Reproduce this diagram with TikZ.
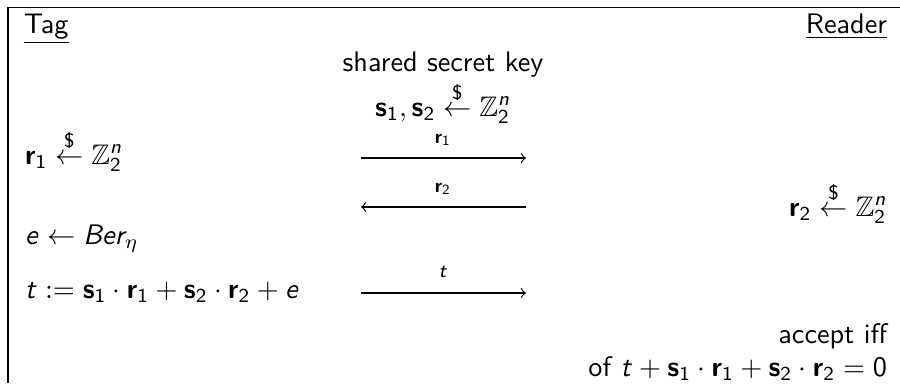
\documentclass[tikz,border=0pt]{standalone}
\usepackage{amssymb}
\renewcommand\familydefault{\sfdefault}
\DeclareMathAlphabet{\msi}{OT1}{cmss}{m}{sl}
\DeclareMathAlphabet{\msb}{OT1}{cmss}{bx}{n}
\DeclareMathAlphabet{\msr}{OT1}{cmss}{m}{n}
\newcommand\myr[1]{\msb{r}_{\msr{#1}}}
\newcommand\mys[1]{\msb{s}_{\msr{#1}}}
\newcommand\samp{\stackrel{\mbox{\scriptsize\$}}{\leftarrow}}
\newcommand\Ztwo{\mathbb{Z}_{\msr{2}}^{\msi{n}}}
\begin{document}
\begin{tikzpicture}[x=0.354pt,y=-0.354pt,
  txt/.style={inner sep=0pt, outer sep=0pt},
  lbl/.style={inner sep=0pt, outer sep=0pt, font=\scriptsize, anchor=base},
  msg/.style={->, line width=0.4pt},
  frame/.style={line width=0.5pt}]
\useasboundingbox (0,0) rectangle (900,383);
\coordinate (fb) at (8,383);
\coordinate (fc) at (8,7.5);
\coordinate (fr) at (900,7.5);
\draw[frame] (fb) -- (fc) -- (fr);
\node[txt, anchor=base west] (tag) at (24,33) {\underline{Tag}};
\node[txt, anchor=base east] (reader) at (887,33) {\underline{Reader}};
\node[txt, anchor=base] (shared) at (443,71) {shared secret key};
\node[txt, anchor=base] (keys) at (443,116) {$\mys1, \mys2 \samp \Ztwo$};
\node[txt, anchor=base west] (r1s) at (25,164) {$\myr1 \samp \Ztwo$};
\coordinate (a1s) at (361,158);
\coordinate (a1e) at (526,158);
\draw[msg] (a1s) -- (a1e);
\node[lbl] (l1) at (443,143) {$\myr1$};
\coordinate (a2s) at (526,207);
\coordinate (a2e) at (361,207);
\draw[msg] (a2s) -- (a2e);
\node[lbl] (l2) at (443,192) {$\myr2$};
\node[txt, anchor=base east] (r2s) at (887,216) {$\myr2 \samp \Ztwo$};
\node[txt, anchor=base west] (err) at (25,244) {$\msi{e} \leftarrow \msi{Ber}_{\mkern-2mu\eta}$};
\node[txt, anchor=base west] (tdef) at (25,298) {$\msi{t} := \mys1\cdot\myr1 + \mys2\cdot\myr2 + \msi{e}$};
\coordinate (a3s) at (361,293);
\coordinate (a3e) at (526,293);
\draw[msg] (a3s) -- (a3e);
\node[lbl] (l3) at (443,277) {$\msi{t}$};
\node[txt, anchor=base east] (acc) at (887,343) {accept iff};
\node[txt, anchor=base east] (cond) at (887,376) {of $\msi{t} + \mys1\cdot\myr1 + \mys2\cdot\myr2 = \msr{0}$};
\end{tikzpicture}
\end{document}
